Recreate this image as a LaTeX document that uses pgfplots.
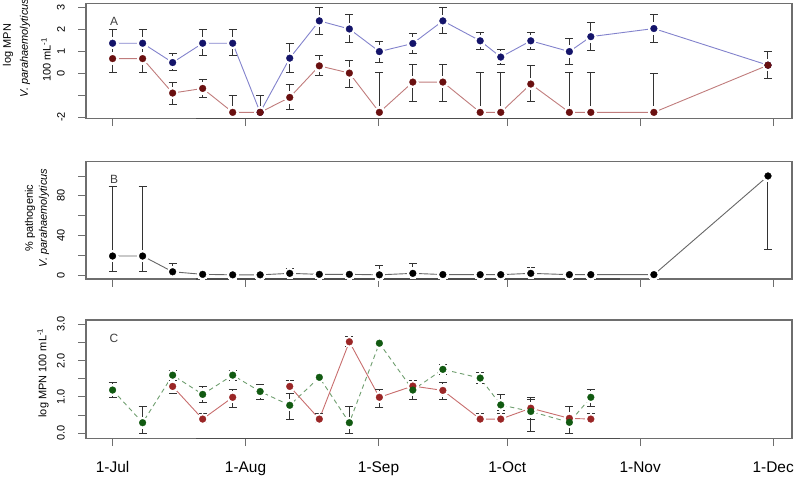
\documentclass[border=0pt]{standalone}
\usepackage{pgfplots}
\usepackage{pgfplotstable}
\usepackage{fontspec}
\setmainfont{Liberation Sans}
\pgfplotsset{compat=1.18}

\definecolor{frame}{HTML}{6E6E6E}
\definecolor{bluept}{HTML}{14146A}
\definecolor{blueln}{HTML}{8282CC}
\definecolor{redpt}{HTML}{6A1010}
\definecolor{redln}{HTML}{C07C7C}
\definecolor{redptC}{HTML}{9A2626}
\definecolor{redlnC}{HTML}{C86E6E}
\definecolor{greenpt}{HTML}{115A11}
\definecolor{greenln}{HTML}{6E9E6E}
\definecolor{errc}{HTML}{333333}
\definecolor{grayln}{HTML}{666666}

% Panel A: log MPN V. parahaemolyticus (day since 1 July)
\pgfplotstableread{
day val hi lo
0 1.36 1.97 0.03
7 1.36 1.97 0.03
14 0.48 0.88 0.10
21 1.36 1.97 0.79
28 1.36 1.97 0.79
34.4 -1.79 -1.00 -1.79
41.3 0.68 1.35 0.03
48.2 2.38 2.98 1.77
55.2 2.01 2.66 1.41
62.2 0.98 1.44 0.48
70 1.35 1.80 0.88
77 2.38 2.98 1.79
85.7 1.47 1.86 1.06
90.5 0.73 1.06 0.41
97.5 1.47 1.86 1.06
106.5 0.98 1.57 0.38
111.5 1.66 2.32 1.01
126.2 2.03 2.66 1.41
152.8 0.36 0.98 -0.25
}\blueA
\pgfplotstableread{
day val hi lo
0 0.66 0.66 0.03
7 0.66 0.66 0.03
14 -0.91 -0.43 -1.41
21 -0.70 -0.30 -1.10
28 -1.79 -1.00 -1.79
34.4 -1.79 -1.00 -1.79
41.3 -1.11 -0.52 -1.68
48.2 0.33 0.79 -0.12
55.2 0.00 0.56 -0.67
62.2 -1.79 0.03 -1.79
70 -0.41 0.41 -1.30
77 -0.41 0.41 -1.30
85.7 -1.79 0.03 -1.79
90.5 -1.79 0.03 -1.79
97.5 -0.50 0.33 -1.30
106.5 -1.79 0.03 -1.79
111.5 -1.79 0.03 -1.79
126.2 -1.79 0.00 -1.79
152.8 0.36 0.98 -0.25
}\redA
% Panel B: % pathogenic
\pgfplotstableread{
day val
0 19.2
7 19.2
14 3.3
21 0.7
28 0.2
34.4 0.2
41.3 1.7
48.2 0.7
55.2 0.7
62.2 0.2
70 1.7
77 0.5
85.7 0.4
90.5 0.4
97.5 1.7
106.5 0.4
111.5 0.4
126.2 0.4
152.8 100
}\pathB
\pgfplotstableread{
day val hi lo
0 19.2 89.2 4
7 19.2 89.2 4
14 3.3 11.8 3.3
41.3 1.7 6.8 1.7
62.2 0.2 10 0.2
70 1.7 11.8 1.7
97.5 1.7 7.8 1.7
152.8 100 100 25.3
}\errB
% Panel C
\pgfplotstableread{
day val hi lo
0 1.19 1.39 0.98
7 0.29 0.73 0.00
14 1.60 1.74 1.44
21 1.07 1.29 0.86
28 1.60 1.74 1.44
34.4 1.15 1.33 0.94
41.3 0.77 1.10 0.37
48.2 1.54 1.65 1.42
55.2 0.29 0.73 0.00
62.2 2.48 2.55 2.40
70 1.19 1.44 0.94
77 1.76 1.90 1.63
85.7 1.52 1.67 1.38
90.5 0.78 1.07 0.64
97.5 0.60 0.94 0.04
106.5 0.30 0.73 0.00
111.5 0.99 1.21 0.73
}\greenC
\pgfplotstableread{
day val hi lo
14 1.29 1.44 1.10
21 0.39 0.55 0.30
28 0.99 1.21 0.72
41.3 1.29 1.45 1.10
48.2 0.39 0.55 0.30
55.2 2.52 2.66 2.39
62.2 0.99 1.21 0.72
70 1.30 1.44 1.10
77 1.18 1.39 0.94
85.7 0.39 0.55 0.30
90.5 0.39 0.55 0.30
97.5 0.69 0.99 0.37
106.5 0.41 0.73 0.30
111.5 0.39 0.55 0.30
}\redC

\pgfplotsset{
  panel/.style={scale only axis, width=706bp, xmin=-6.2, xmax=158.4,
    axis line style={draw=frame, line width=1.1bp},
    tick style={draw=frame, line width=0.9bp},
    major tick length=7.7bp, tick align=outside,
    xtick pos=bottom, ytick pos=left,
    xtick={0,31,62,92,123,154}, xticklabels={},
    yticklabel style={xshift=-10bp, rotate=90, anchor=south, font=\fontsize{11}{13}\selectfont}},
  lineonly/.style={mark=*, mark size=5.6bp, mark options={fill=white, draw=white, line width=0pt, solid}},
  errs/.style={errc, only marks, mark=*, mark size=0.01bp, forget plot,
    error bars/.cd, y dir=both, y explicit, error mark=-,
    error bar style={draw=errc, line width=1bp, solid},
    error mark options={rotate=90, draw=errc, mark size=4bp, line width=1bp, solid}},
  dots/.style={only marks, mark=*, mark size=3.4bp, mark options={fill=#1, draw=#1, line width=0.3bp}},
}

\begin{document}
\begin{tikzpicture}
\path[use as bounding box] (0,0) rectangle (800bp,-477bp);

% ---------- Panel A ----------
\begin{axis}[panel, at={(86bp,-3.3bp)}, anchor=north west, height=115.2bp,
  ymin=-2.07, ymax=3.18, ytick={-2,-1,0,1,2,3}, yticklabels={-2,,0,1,2,3}]
\addplot[blueln, line width=0.9bp, lineonly] table[x=day,y=val]{\blueA};
\addplot[redln, line width=0.9bp, lineonly] table[x=day,y=val]{\redA};
\addplot[errs] table[x=day,y=val,y error plus expr=\thisrow{hi}-\thisrow{val},y error minus expr=\thisrow{val}-\thisrow{lo}]{\blueA};
\addplot[errs] table[x=day,y=val,y error plus expr=\thisrow{hi}-\thisrow{val},y error minus expr=\thisrow{val}-\thisrow{lo}]{\redA};
\addplot[dots=bluept] table[x=day,y=val]{\blueA};
\addplot[dots=redpt] table[x=day,y=val]{\redA};
\draw[draw=frame!70!black, line width=1.5bp] (rel axis cs:0.156,0) -- (rel axis cs:0.756,0);
\node[font=\fontsize{12}{14}\selectfont, text=black!75] at (rel axis cs:0.0397,0.845) {A};
\end{axis}

% ---------- Panel B ----------
\begin{axis}[panel, at={(86bp,-161.7bp)}, anchor=north west, height=117.3bp,
  ymin=-4, ymax=114.4, ytick={0,20,40,60,80,100}, yticklabels={0,,40,,80,}]
\addplot[grayln, line width=0.9bp, lineonly] table[x=day,y=val]{\pathB};
\addplot[errs] table[x=day,y=val,y error plus expr=\thisrow{hi}-\thisrow{val},y error minus expr=\thisrow{val}-\thisrow{lo}]{\errB};
\addplot[dots=black] table[x=day,y=val]{\pathB};
\draw[draw=frame!70!black, line width=1.5bp] (rel axis cs:0.156,0) -- (rel axis cs:0.756,0);
\node[font=\fontsize{12}{14}\selectfont, text=black!75] at (rel axis cs:0.0397,0.853) {B};
\end{axis}

% ---------- Panel C ----------
\begin{axis}[panel, at={(86bp,-320bp)}, anchor=north west, height=118.3bp,
  ymin=-0.14, ymax=3.12, ytick={0,0.5,1,1.5,2,2.5,3}, yticklabels={0.0,,1.0,,2.0,,3.0},
  xticklabels={1-Jul,1-Aug,1-Sep,1-Oct,1-Nov,1-Dec},
  xticklabel style={anchor=north, yshift=-12bp, font=\fontsize{15.5}{18}\selectfont}]
\addplot[greenln, line width=0.9bp, dash pattern=on 4.5bp off 3.5bp, lineonly] table[x=day,y=val]{\greenC};
\addplot[redlnC, line width=0.9bp, lineonly, skip coords between index={3}{14}] table[x=day,y=val]{\redC};
\addplot[redlnC, line width=0.9bp, lineonly, skip coords between index={0}{3}] table[x=day,y=val]{\redC};
\addplot[errs] table[x=day,y=val,y error plus expr=\thisrow{hi}-\thisrow{val},y error minus expr=\thisrow{val}-\thisrow{lo}]{\greenC};
\addplot[errs] table[x=day,y=val,y error plus expr=\thisrow{hi}-\thisrow{val},y error minus expr=\thisrow{val}-\thisrow{lo}]{\redC};
\addplot[dots=redptC] table[x=day,y=val]{\redC};
\addplot[dots=greenpt] table[x=day,y=val]{\greenC};
\draw[draw=frame!70!black, line width=1.5bp] (rel axis cs:0.156,0) -- (rel axis cs:0.756,0);
\node[font=\fontsize{12}{14}\selectfont, text=black!75] at (rel axis cs:0.0397,0.845) {C};
\end{axis}

% ---------- y labels ----------
\begin{scope}[every node/.style={rotate=90, anchor=center, font=\fontsize{11}{13}\selectfont, inner sep=0pt}]
\node at (8bp,-45bp) {log MPN};
\node at (25bp,-48bp) {\itshape V. parahaemolyticus};
\node at (46bp,-60bp) {100 mL\textsuperscript{-1}};
\node at (30bp,-218bp) {\% pathogenic};
\node at (44bp,-218bp) {\itshape V. parahaemolyticus};
\node at (43bp,-373bp) {log MPN 100 mL\textsuperscript{-1}};
\end{scope}
\end{tikzpicture}
\end{document}
